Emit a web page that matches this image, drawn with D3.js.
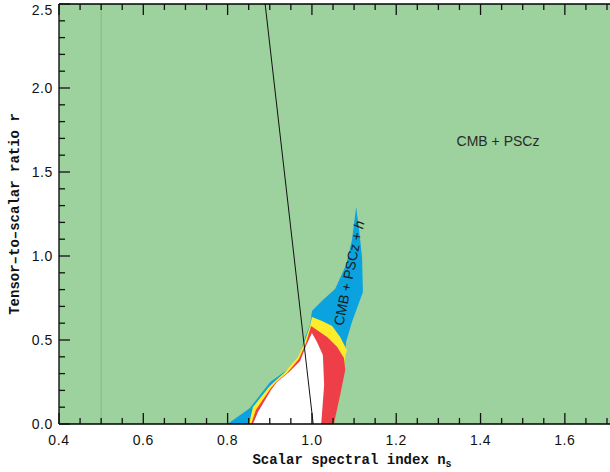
<!DOCTYPE html>
<html><head><meta charset="utf-8">
<script src="https://cdn.jsdelivr.net/npm/d3@7"></script>
<style>
html,body{margin:0;padding:0;background:#fff;}
svg{display:block;}
</style></head>
<body>
<svg id="chart" width="610" height="472"></svg>
<script>
// ---- data ----
const xDomain = [0.4, 1.7];
const yDomain = [0, 2.5];
const xMajorTicks = [0.4, 0.6, 0.8, 1.0, 1.2, 1.4, 1.6];
const xTickLabels = ["0.4", "0.6", "0.8", "1.0", "1.2", "1.4", "1.6"];
const yMajorTicks = [0, 0.5, 1.0, 1.5, 2.0, 2.5];
const yTickLabels = ["0.0", "0.5", "1.0", "1.5", "2.0", "2.5"];
const xMinorStep = 0.05;
const yMinorStep = 0.1;

// outer (CMB + PSCz + h) contour, 2 sigma
const blueContour = [[0.800,0],[0.853,0.095],[0.901,0.25],[0.934,0.31],[0.965,0.37],[0.974,0.44],[0.986,0.53],[0.996,0.595],[1.000,0.673],[1.026,0.738],[1.055,0.804],[1.081,0.946],[1.095,1.095],[1.105,1.292],[1.112,1.155],[1.119,0.988],[1.121,0.786],[1.095,0.607],[1.081,0.488],[1.079,0.411],[1.076,0.321],[1.067,0.173],[1.052,0]];
const yellowContour = [[0.851,0],[0.860,0.101],[0.898,0.220],[0.910,0.25],[0.934,0.304],[0.967,0.399],[0.984,0.50],[0.996,0.589],[1.000,0.637],[1.024,0.613],[1.048,0.583],[1.067,0.518],[1.083,0.44],[1.079,0.399],[1.076,0.321],[1.067,0.173],[1.052,0]];
const redContour = [[0.856,0],[0.867,0.083],[0.901,0.208],[0.915,0.25],[0.941,0.304],[0.969,0.387],[0.986,0.482],[0.998,0.583],[1.036,0.518],[1.060,0.458],[1.076,0.393],[1.079,0.321],[1.067,0.173],[1.052,0]];
const whiteContour = [[0.860,0],[0.872,0.071],[0.903,0.202],[0.917,0.25],[0.946,0.31],[0.972,0.375],[0.988,0.476],[1.000,0.542],[1.012,0.488],[1.026,0.411],[1.029,0.232],[1.022,0]];

const modelLineNs = [0.889, 1.003];
const modelLineR = [2.5, 0];
const refLineNs = 0.5;

const labelOuter = "CMB + PSCz";
const labelInnerMain = "CMB + PSCz + ";
const labelInnerItalic = "h";
const xTitle = "Scalar spectral index n";
const xTitleSub = "s";
const yTitle = "Tensor\u2013to\u2013scalar ratio r";

// ---- drawing ----
const svg = d3.select("#chart");
const L = 59, R = 607, T = 4, B = 424;
const x = d3.scaleLinear().domain(xDomain).range([L, R]);
const y = d3.scaleLinear().domain(yDomain).range([B, T]);

svg.append("rect").attr("x", L).attr("y", T).attr("width", 610 - L).attr("height", B - T)
  .attr("fill", "#9dd19d");

svg.append("line").attr("x1", x(refLineNs)).attr("x2", x(refLineNs))
  .attr("y1", y(yDomain[0])).attr("y2", y(yDomain[1]))
  .attr("stroke", "#86bb86").attr("stroke-width", 1);

const line = d3.line().x(d => x(d[0])).y(d => y(d[1]));
const layers = [
  [blueContour, "#0aa3df"],
  [yellowContour, "#fdec2c"],
  [redContour, "#ee3f49"],
  [whiteContour, "#ffffff"]
];
layers.forEach(([pts, col]) => {
  svg.append("path").attr("d", line(pts) + "Z").attr("fill", col).attr("stroke", "none");
});

svg.append("line")
  .attr("x1", x(modelLineNs[0])).attr("y1", y(modelLineR[0]))
  .attr("x2", x(modelLineNs[1])).attr("y2", y(modelLineR[1]))
  .attr("stroke", "#111").attr("stroke-width", 1);

// labels
svg.append("text").attr("x", 498).attr("y", 146).attr("text-anchor", "middle")
  .attr("font-family", "Liberation Sans, Arial, sans-serif").attr("font-size", 14)
  .attr("fill", "#2a2a2a").text(labelOuter);

const lt = svg.append("text").attr("transform", "translate(349,273) rotate(-78.5)")
  .attr("text-anchor", "middle").attr("dy", "0.35em")
  .attr("font-family", "Liberation Sans, Arial, sans-serif").attr("font-size", 14)
  .attr("fill", "#1a1a1a");
lt.append("tspan").text(labelInnerMain);
lt.append("tspan").attr("font-style", "italic").text(labelInnerItalic);

// frame
const frame = svg.append("g").attr("stroke", "#000").attr("stroke-width", 1.3).attr("fill", "none");
frame.append("line").attr("x1", L).attr("x2", L).attr("y1", T).attr("y2", B);
frame.append("line").attr("x1", L).attr("x2", 610).attr("y1", B).attr("y2", B);
frame.append("line").attr("x1", L).attr("x2", 610).attr("y1", T).attr("y2", T);

// ticks
const xMinor = d3.range(xDomain[0], xDomain[1] + 1e-9, xMinorStep);
const yMinor = d3.range(yDomain[0], yDomain[1] + 1e-9, yMinorStep);
const isMajor = (v, arr) => arr.some(m => Math.abs(m - v) < 1e-6);

const tk = svg.append("g").attr("stroke", "#111").attr("stroke-width", 1.3);
xMinor.forEach(v => {
  const len = isMajor(v, xMajorTicks) ? 11 : 6;
  tk.append("line").attr("x1", x(v)).attr("x2", x(v)).attr("y1", B).attr("y2", B - len);
  tk.append("line").attr("x1", x(v)).attr("x2", x(v)).attr("y1", T).attr("y2", T + len);
});
yMinor.forEach(v => {
  const len = isMajor(v, yMajorTicks) ? 11 : 6;
  tk.append("line").attr("x1", L).attr("x2", L + len).attr("y1", y(v)).attr("y2", y(v));
});

const tickFont = "Liberation Sans, Arial, sans-serif";
xMajorTicks.forEach((v, i) => {
  svg.append("text").attr("x", x(v)).attr("y", 445).attr("text-anchor", "middle")
    .attr("font-family", tickFont).attr("font-size", 14).attr("letter-spacing", 0.6)
    .attr("fill", "#111").text(xTickLabels[i]);
});
yMajorTicks.forEach((v, i) => {
  // keep the topmost label inside the picture (its top sits at the frame line)
  const cy = Math.max(y(v), T + 5.5);
  svg.append("text").attr("x", 53).attr("y", cy).attr("dy", "0.36em").attr("text-anchor", "end")
    .attr("font-family", tickFont).attr("font-size", 14).attr("letter-spacing", 0.6)
    .attr("fill", "#111").text(yTickLabels[i]);
});

// axis titles
const titleFont = "Liberation Mono, Courier New, monospace";
const xt = svg.append("text").attr("x", 352).attr("y", 464).attr("text-anchor", "middle")
  .attr("font-family", titleFont).attr("font-size", 14).attr("font-weight", "bold").attr("fill", "#111");
xt.append("tspan").text(xTitle);
xt.append("tspan").attr("font-size", 10).attr("dy", 3).text(xTitleSub);

svg.append("text").attr("transform", "translate(19,214) rotate(-90)").attr("text-anchor", "middle")
  .attr("font-family", titleFont).attr("font-size", 14).attr("font-weight", "bold").attr("fill", "#111")
  .text(yTitle);
</script>
</body></html>
